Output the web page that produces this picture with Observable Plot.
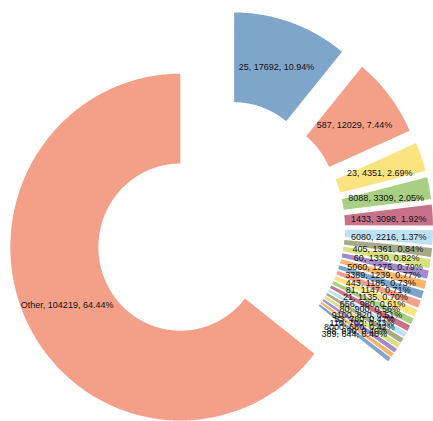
<!DOCTYPE html>
<html>
<head>
<meta charset="utf-8">
<script src="https://cdn.jsdelivr.net/npm/d3@7"></script>
<script src="https://cdn.jsdelivr.net/npm/@observablehq/plot@0.6"></script>
<style>
  html, body { margin: 0; padding: 0; background: #fff; }
  #chart svg { display: block; }
</style>
</head>
<body>
<div id="chart"></div>
<script>
// ---- data ----
const categories = ["25","587","23","8088","1433","6080","405","60","5060","3389","443","81","21","656","80","9100","53","110","8000","88","389","Other"];
const counts     = [17692,12029,4351,3309,3098,2216,1361,1330,1275,1239,1185,1147,1135,980,900,820,760,700,680,650,644,104219];
const palette    = ["#7fa6ca","#f4a088","#f9e47f","#a8cf84","#c8718a","#bfe1f6","#a6aa86","#d8e27c","#a68bcb","#f7b46a"];

// ---- layout (unit circle space) ----
const W = 433, H = 421;
const R = 1, r0 = 0.482, explode = 0.256;
const xDomain = [-1.288, 1.259], yDomain = [-1.118, 1.310];

const total = d3.sum(counts);
const slices = [];
const labels = [];
let acc = 0;
categories.forEach((c, i) => {
  const a0 = acc / total * 2 * Math.PI;
  acc += counts[i];
  const a1 = acc / total * 2 * Math.PI;
  const mid = (a0 + a1) / 2;
  const ox = explode * Math.sin(mid), oy = explode * Math.cos(mid);
  const n = Math.max(4, Math.ceil((a1 - a0) / 0.01));
  for (let k = 0; k <= n; k++) {
    const a = a0 + (a1 - a0) * k / n;
    slices.push({key: c, x: ox + R * Math.sin(a), y: oy + R * Math.cos(a)});
  }
  for (let k = n; k >= 0; k--) {
    const a = a0 + (a1 - a0) * k / n;
    slices.push({key: c, x: ox + r0 * Math.sin(a), y: oy + r0 * Math.cos(a)});
  }
  const rc = (R + r0) / 2;
  labels.push({
    key: c,
    x: ox + rc * Math.sin(mid),
    y: oy + rc * Math.cos(mid),
    text: `${c}, ${counts[i]}, ${(counts[i] / total * 100).toFixed(2)}%`
  });
});

const chart = Plot.plot({
  width: W,
  height: H,
  margin: 0,
  x: {domain: xDomain, axis: null},
  y: {domain: yDomain, axis: null},
  color: {domain: categories, range: categories.map((_, i) => palette[i % palette.length])},
  style: {fontFamily: "'Liberation Sans', Arial, sans-serif", background: "#fff"},
  marks: [
    Plot.line(slices, {x: "x", y: "y", z: "key", fill: "key", stroke: "none", curve: "linear"}),
    Plot.text(labels, {x: "x", y: "y", text: "text", fill: "#111", fontSize: 9, dy: 2})
  ]
});
document.getElementById("chart").append(chart);
</script>
</body>
</html>
